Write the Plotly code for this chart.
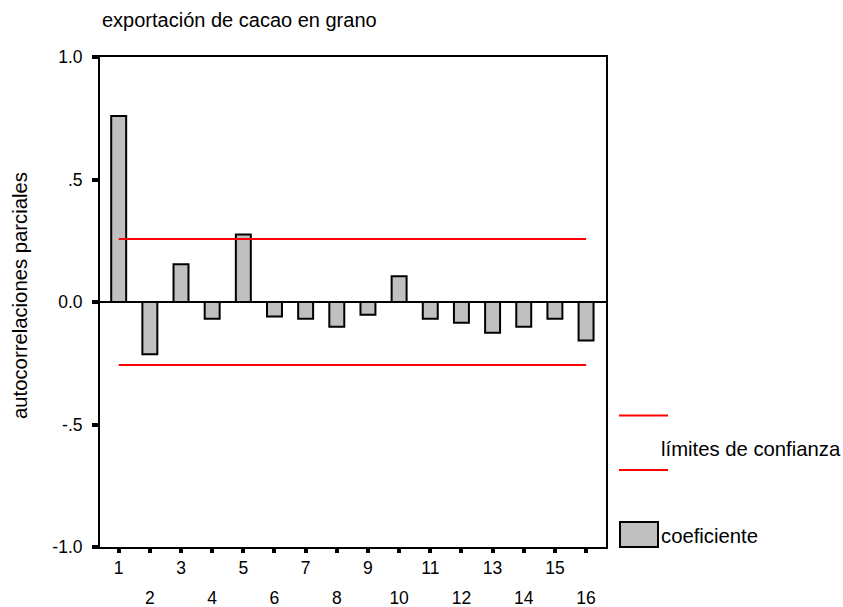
import plotly.graph_objects as go

# Partial autocorrelation function of cocoa bean exports
lags = list(range(1, 17))
pacf = [0.759, -0.213, 0.154, -0.068, 0.276, -0.059, -0.068, -0.101,
        -0.052, 0.105, -0.068, -0.085, -0.126, -0.101, -0.068, -0.157]
conf_limit = 0.257

y_tickvals = [-1.0, -0.5, 0.0, 0.5, 1.0]
y_ticktext = ["-1.0", "-.5", "0.0", ".5", "1.0"]
odd_lags = [str(l) if l % 2 == 1 else "" for l in lags]
even_lags = [str(l) for l in lags if l % 2 == 0]

FONT = "Liberation Sans, Arial, sans-serif"
W, H = 843, 607
L, R, T, B = 100, 237, 57, 60
pw, ph = W - L - R, H - T - B


def px_x(x):
    return (x - L) / pw


def px_y(y):
    return (H - B - y) / ph


fig = go.Figure()

fig.add_trace(go.Bar(
    x=lags, y=pacf, width=0.48,
    marker=dict(color="#c0c0c0", line=dict(color="black", width=2)),
    showlegend=False,
))

for lim in (conf_limit, -conf_limit):
    fig.add_trace(go.Scatter(
        x=[lags[0], lags[-1]], y=[lim, lim], mode="lines",
        line=dict(color="#ff0000", width=2), showlegend=False,
    ))

# invisible trace to carry the second row of lag labels
fig.add_trace(go.Scatter(x=[lags[0]], y=[0], xaxis="x2", mode="markers",
                         marker=dict(opacity=0), showlegend=False, hoverinfo="skip"))

fig.update_layout(
    width=W, height=H,
    margin=dict(l=L, r=R, t=T, b=B),
    paper_bgcolor="white", plot_bgcolor="white",
    font=dict(family=FONT, size=17, color="black"),
    xaxis=dict(
        range=[0.40, 16.64], tickvals=lags, ticktext=odd_lags,
        showline=True, linecolor="black", linewidth=2, mirror=True,
        ticks="outside", ticklen=4, tickwidth=4, tickcolor="black",
        showgrid=False, zeroline=False, tickfont=dict(size=17.5),
        ticklabelstandoff=0, automargin=False,
    ),
    xaxis2=dict(
        overlaying="x", matches="x", anchor="y", side="bottom",
        tickvals=[l for l in lags if l % 2 == 0], ticktext=even_lags,
        ticks="", showline=False, showgrid=False, zeroline=False,
        ticklabelstandoff=38, tickfont=dict(size=17.5), automargin=False,
    ),
    yaxis=dict(
        range=[-1.0, 1.0], tickvals=y_tickvals, ticktext=y_ticktext,
        showline=True, linecolor="black", linewidth=2, mirror=True,
        ticks="outside", ticklen=6, tickwidth=4, tickcolor="black",
        showgrid=False, zeroline=True, zerolinecolor="black", zerolinewidth=2,
        tickfont=dict(size=17.5), ticklabelstandoff=6, automargin=False,
    ),
    annotations=[
        dict(text="exportación de cacao en grano", xref="paper", yref="paper",
             x=0, y=px_y(20), xanchor="left", yanchor="middle",
             showarrow=False, font=dict(size=20)),
        dict(text="autocorrelaciones parciales", xref="paper", yref="paper",
             x=px_x(20), y=px_y(296), xanchor="center", yanchor="middle",
             textangle=-90, showarrow=False, font=dict(size=20.3)),
        dict(text="límites de confianza", xref="paper", yref="paper",
             x=px_x(659), y=px_y(449), xanchor="left", yanchor="middle",
             showarrow=False, font=dict(size=20.3)),
        dict(text="coeficiente", xref="paper", yref="paper",
             x=px_x(659), y=px_y(536), xanchor="left", yanchor="middle",
             showarrow=False, font=dict(size=20.3)),
    ],
    shapes=[
        dict(type="line", xref="paper", yref="paper",
             x0=px_x(619), x1=px_x(668), y0=px_y(415.5), y1=px_y(415.5),
             line=dict(color="#ff0000", width=2)),
        dict(type="line", xref="paper", yref="paper",
             x0=px_x(619), x1=px_x(668), y0=px_y(470), y1=px_y(470),
             line=dict(color="#ff0000", width=2)),
        dict(type="rect", xref="paper", yref="paper",
             x0=px_x(620), x1=px_x(658), y0=px_y(547), y1=px_y(522),
             fillcolor="#c0c0c0", line=dict(color="black", width=2)),
    ],
)

fig.write_html("out.html")
